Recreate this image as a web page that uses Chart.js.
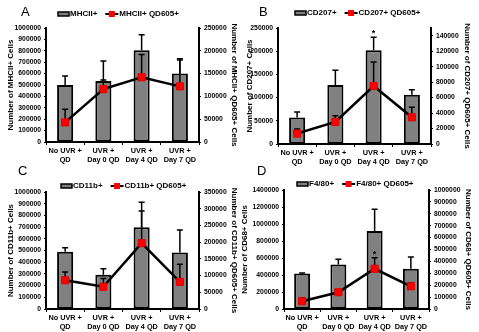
<!DOCTYPE html>
<html>
<head>
<meta charset="utf-8">
<script src="https://cdn.jsdelivr.net/npm/chart.js@4.4.1/dist/chart.umd.min.js"></script>
<style>
  body { margin: 0; background: #fff; width: 479px; height: 332px; position: relative; overflow: hidden; }
  canvas { position: absolute; }
</style>
</head>
<body>
<canvas id="chartA" width="240" height="166" style="left:0;top:0"></canvas>
<canvas id="chartB" width="240" height="166" style="left:239px;top:0"></canvas>
<canvas id="chartC" width="240" height="166" style="left:0;top:166px"></canvas>
<canvas id="chartD" width="240" height="166" style="left:239px;top:166px"></canvas>
<script>
const categories = [['No UVR +', 'QD'], ['UVR +', 'Day 0 QD'], ['UVR +', 'Day 4 QD'], ['UVR +', 'Day 7 QD']];

// A - MHCII
const mhcCells = [500000, 535000, 805000, 600000];
const mhcCellsErr = [78000, 175000, 135000, 130000];
const mhcQd = [43000, 116000, 142000, 122000];
const mhcQdErr = [29000, 20000, 50000, 58000];

// B - CD207
const cd207Cells = [57000, 127000, 202000, 106000];
const cd207CellsErr = [12000, 32000, 28000, 11000];
const cd207Qd = [13500, 28500, 75000, 34500];
const cd207QdErr = [6000, 8000, 31000, 13000];
const cd207QdTicks = [0, 20000, 40000, 60000, 80000, 100000, 120000, 140000];

// C - CD11b
const cd11Cells = [490000, 292000, 698000, 482000];
const cd11CellsErr = [34000, 53000, 214000, 193000];
const cd11Qd = [86000, 66500, 197000, 81000];
const cd11QdErr = [25000, 25000, 96000, 53000];

// D - F4/80
const f480Cells = [418000, 525000, 919000, 473000];
const f480CellsErr = [7000, 60000, 255000, 140000];
const f480Qd = [65000, 141000, 338000, 191000];
const f480QdErr = [28000, 5000, 92000, 30000];

// which means carry a star
const starsB = [false, false, true, false];
const starsD = [false, false, true, false];

const fontFamily = '"Liberation Sans", Arial, sans-serif';
const barGray = '#808080';
const qdRed = '#ff0000';

// error bars (upper only), drawn before each dataset so line/points end up on top
const errorBars = {
  id: 'errorBars',
  beforeDatasetDraw(chart, args) {
    const ds = chart.data.datasets[args.index];
    if (!ds.errors) return;
    const scale = chart.scales[args.meta.yAxisID];
    const ctx = chart.ctx;
    ctx.save();
    ctx.strokeStyle = '#000';
    ctx.lineWidth = 1.5;
    args.meta.data.forEach((el, i) => {
      const top = scale.getPixelForValue(ds.data[i] + ds.errors[i]);
      ctx.beginPath();
      ctx.moveTo(el.x, el.y);
      ctx.lineTo(el.x, top);
      ctx.moveTo(el.x - 3, top);
      ctx.lineTo(el.x + 3, top);
      ctx.stroke();
      if (ds.stars && ds.stars[i]) {
        ctx.fillStyle = '#000';
        ctx.font = 'bold 9px ' + fontFamily;
        ctx.textAlign = 'center';
        ctx.textBaseline = 'bottom';
        ctx.fillText('*', el.x, top + 1);
      }
    });
    ctx.restore();
  }
};

// panel letter + legend
const panelDecor = {
  id: 'panelDecor',
  afterDraw(chart, args, opts) {
    const ctx = chart.ctx;
    const sets = chart.data.datasets;
    const barSet = sets.find(d => d.type === 'bar');
    const lineSet = sets.find(d => d.type === 'line');
    ctx.save();
    ctx.fillStyle = '#000';
    ctx.textBaseline = 'middle';
    ctx.textAlign = 'left';
    ctx.font = '13px ' + fontFamily;
    ctx.fillText(opts.letter, opts.letterX, opts.letterY);

    let x = opts.legendX;
    const y = opts.legendY;
    ctx.font = 'bold 8px ' + fontFamily;
    ctx.fillStyle = barGray;
    ctx.strokeStyle = '#000';
    ctx.lineWidth = 1.5;
    ctx.fillRect(x, y - 2, 11, 4);
    ctx.strokeRect(x, y - 2, 11, 4);
    ctx.fillStyle = '#000';
    ctx.fillText(barSet.label, x + 12, y);
    x += 12 + ctx.measureText(barSet.label).width + 8;
    ctx.lineWidth = 2;
    ctx.beginPath();
    ctx.moveTo(x, y);
    ctx.lineTo(x + 13, y);
    ctx.stroke();
    ctx.fillStyle = qdRed;
    ctx.fillRect(x + 3.5, y - 3, 6, 6);
    ctx.fillStyle = '#000';
    ctx.fillText(lineSet.label, x + 14, y);
    ctx.restore();
  }
};

const plainNumber = v => String(v);

function makePanel(id, p) {
  const tickFont = { family: fontFamily, size: 6.8, weight: 'bold' };
  const titleFont = { family: fontFamily, size: 8, weight: 'bold' };
  return new Chart(document.getElementById(id), {
    type: 'bar',
    data: {
      labels: categories,
      datasets: [
        {
          type: 'line', label: p.lineLabel, data: p.line, errors: p.lineErr, stars: p.lineStars,
          yAxisID: 'y1', order: 1,
          borderColor: '#000', borderWidth: 2.5,
          pointStyle: 'rect', pointRadius: 5, pointBackgroundColor: qdRed,
          pointBorderColor: '#e00000', pointBorderWidth: 1
        },
        {
          type: 'bar', label: p.barLabel, data: p.bars, errors: p.barErr, stars: p.barStars,
          yAxisID: 'y', order: 2,
          backgroundColor: barGray, borderColor: '#000', borderWidth: 2, borderSkipped: false,
          barPercentage: p.barPct, categoryPercentage: 1
        }
      ]
    },
    options: {
      responsive: false,
      animation: false,
      layout: { padding: { top: p.top, left: 0, right: 0, bottom: 0 } },
      plugins: {
        legend: { display: false },
        tooltip: { enabled: false },
        panelDecor: p.decor
      },
      scales: {
        x: {
          grid: { display: true, drawOnChartArea: false, tickLength: 3, color: '#000', offset: true },
          border: { color: '#000', width: 2 },
          ticks: { font: { family: fontFamily, size: 7.3, weight: 'bold', lineHeight: 1.2 }, color: '#000', padding: 1.5, maxRotation: 0, autoSkip: false },
          afterFit: s => { s.height = 166 - p.bottom; }
        },
        y: {
          position: 'left',
          min: 0, max: p.yMax,
          ticks: { stepSize: p.yStep, font: tickFont, color: '#000', padding: 3, callback: plainNumber },
          grid: { drawOnChartArea: false, tickLength: 2, color: '#000' },
          border: { color: '#000', width: 2 },
          title: { display: true, text: p.yTitle, font: titleFont, color: '#000', padding: { top: p.yTitlePad, bottom: 0 } },
          afterFit: s => { s.width = p.left; }
        },
        y1: {
          position: 'right',
          min: 0, max: p.y1Max,
          ticks: { stepSize: p.y1Step, font: tickFont, color: '#000', padding: 3, callback: plainNumber },
          grid: { drawOnChartArea: false, tickLength: 2, color: '#000' },
          border: { color: '#000', width: 2 },
          title: { display: true, text: p.y1Title, font: titleFont, color: '#000', padding: { top: p.y1TitlePad, bottom: 0 } },
          afterBuildTicks: s => { if (p.y1Ticks) s.ticks = p.y1Ticks.map(v => ({ value: v })); },
          afterFit: s => { s.width = 240 - p.right; }
        }
      }
    },
    plugins: [errorBars, panelDecor]
  });
}

makePanel('chartA', {
  barLabel: 'MHCII+', lineLabel: 'MHCII+ QD605+',
  bars: mhcCells, barErr: mhcCellsErr, line: mhcQd, lineErr: mhcQdErr,
  yMax: 1000000, yStep: 100000, y1Max: 250000, y1Step: 50000,
  yTitle: 'Number of MHCII+ Cells', y1Title: 'Number of MHCII+ QD605+ Cells',
  left: 46, right: 199, top: 28, bottom: 142, yTitlePad: 6, y1TitlePad: 0.5, barPct: 0.42,
  decor: { letter: 'A', letterX: 21, letterY: 12, legendX: 58, legendY: 14 }
});

makePanel('chartB', {
  barLabel: 'CD207+', lineLabel: 'CD207+ QD605+',
  bars: cd207Cells, barErr: cd207CellsErr, barStars: starsB, line: cd207Qd, lineErr: cd207QdErr,
  yMax: 250000, yStep: 50000, y1Max: 150000, y1Step: 20000, y1Ticks: cd207QdTicks,
  yTitle: 'Number of CD207+ Cells', y1Title: 'Number of CD207+ QD605+ Cells',
  left: 39, right: 192, top: 28, bottom: 144, yTitlePad: 6, y1TitlePad: 7, barPct: 0.42,
  decor: { letter: 'B', letterX: 20, letterY: 12, legendX: 56, legendY: 13 }
});

makePanel('chartC', {
  barLabel: 'CD11b+', lineLabel: 'CD11b+ QD605+',
  bars: cd11Cells, barErr: cd11CellsErr, line: cd11Qd, lineErr: cd11QdErr,
  yMax: 1000000, yStep: 100000, y1Max: 350000, y1Step: 50000,
  yTitle: 'Number of CD11b+ Cells', y1Title: 'Number of CD11b+ QD605+ Cells',
  left: 46, right: 199, top: 26, bottom: 143, yTitlePad: 6, y1TitlePad: 0.5, barPct: 0.42,
  decor: { letter: 'C', letterX: 18, letterY: 5, legendX: 61, legendY: 20 }
});

makePanel('chartD', {
  barLabel: 'F4/80+', lineLabel: 'F4/80+ QD605+',
  bars: f480Cells, barErr: f480CellsErr, line: f480Qd, lineErr: f480QdErr, lineStars: starsD,
  yMax: 1400000, yStep: 200000, y1Max: 1000000, y1Step: 100000,
  yTitle: 'Number of CD68+ Cells', y1Title: 'Number of CD68+ QD605+ Cells',
  left: 45, right: 190, top: 24, bottom: 143, yTitlePad: 1.2, y1TitlePad: 6, barPct: 0.44,
  decor: { letter: 'D', letterX: 18, letterY: 5, legendX: 58, legendY: 18 }
});
</script>
</body>
</html>
